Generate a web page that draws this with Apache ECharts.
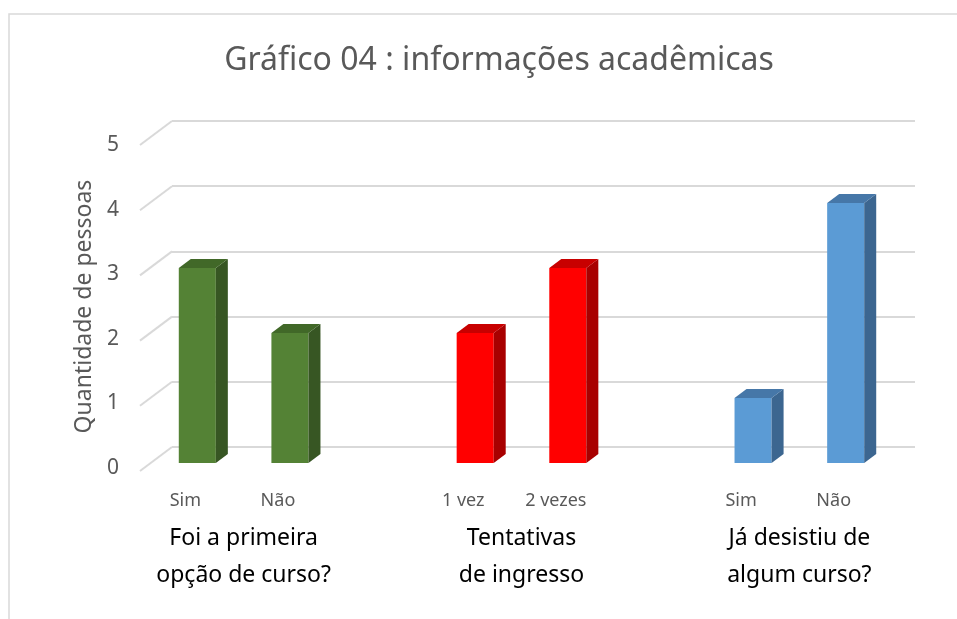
<!DOCTYPE html>
<html>
<head>
<meta charset="utf-8">
<script src="https://cdn.jsdelivr.net/npm/echarts@6/dist/echarts.min.js"></script>
<style>
  html, body { margin: 0; padding: 0; background: #fff; }
  #chart { width: 957px; height: 619px; }
</style>
</head>
<body>
<div id="chart"></div>
<script>
// slots along the x axis; empty slots leave the gap between groups
const slotLabels = ['Sim', 'Não', '', '1 vez', '2 vezes', '', 'Sim', 'Não'];
const counts = [3, 2, null, 2, 3, null, 1, 4];
const slotGroup = [0, 0, -1, 1, 1, -1, 2, 2];
const groupLabels = ['Foi a primeira\nopção de curso?', 'Tentativas\nde ingresso', 'Já desistiu de\nalgum curso?'];
const groupCenters = [0.5, 3.5, 6.5];
const yTicks = [0, 1, 2, 3, 4, 5];

// front / top / side colours per group
const palette = [
  { front: '#548235', top: '#416828', side: '#375623' },
  { front: '#ff0000', top: '#c80000', side: '#a80000' },
  { front: '#5b9bd5', top: '#4677a8', side: '#3c6690' }
];

const barData = [];
counts.forEach((v, i) => {
  if (v != null) barData.push([i, v, slotGroup[i]]);
});

const renderBar = (params, api) => {
  const x = api.value(0);
  const v = api.value(1);
  const c = palette[api.value(2)];
  const base = api.coord([x, 0]);
  const top = api.coord([x, v]);
  const w = api.size([1, 0])[0] * 0.4;
  const x0 = base[0] - w / 2, x1 = base[0] + w / 2;
  const dx = 12, dy = -9;
  return {
    type: 'group',
    children: [
      { type: 'rect', shape: { x: x0, y: top[1], width: w, height: base[1] - top[1] }, style: { fill: c.front } },
      { type: 'polygon', shape: { points: [[x1, top[1]], [x1 + dx, top[1] + dy], [x1 + dx, base[1] + dy], [x1, base[1]]] }, style: { fill: c.side } },
      { type: 'polygon', shape: { points: [[x0, top[1]], [x0 + dx, top[1] + dy], [x1 + dx, top[1] + dy], [x1, top[1]]] }, style: { fill: c.top } }
    ]
  };
};

// diagonal floor/wall lines from the front edge to the back wall
const renderDiagonal = (params, api) => {
  const p = api.coord([0, api.value(1)]);
  return {
    type: 'line',
    shape: { x1: p[0] - 32, y1: p[1] + 24, x2: p[0], y2: p[1] },
    style: { stroke: '#d9d9d9', lineWidth: 2 }
  };
};

const options = {
  backgroundColor: '#fff',
  title: {
    text: 'Gráfico 04 : informações acadêmicas',
    left: 494,
    top: 40,
    textAlign: 'center',
    textStyle: { fontFamily: 'Noto Sans', fontWeight: 'normal', fontSize: 32, color: '#595959' }
  },
  graphic: [{
    type: 'rect',
    shape: { x: 9, y: 14, width: 960, height: 620 },
    style: { fill: 'none', stroke: '#d9d9d9', lineWidth: 1.5 },
    silent: true
  }],
  grid: [
    // bar front-face plane
    { left: 151, right: 65, top: 138, bottom: 156 },
    // back wall
    { left: 172, right: 42, top: 121, bottom: 172 },
    // front edge (tick labels)
    { left: 140, right: 42, top: 145, bottom: 151 },
    // category labels sit on the front edge, a little left of the bars
    { left: 139, right: 77, top: 138, bottom: 156 }
  ],
  xAxis: [
    { gridIndex: 0, type: 'category', data: slotLabels, show: false },
    { gridIndex: 1, type: 'value', min: 0, max: 1, show: false },
    { gridIndex: 2, type: 'value', min: 0, max: 1, show: false },
    {
      gridIndex: 0, type: 'value', min: -0.5, max: 7.5, interval: 0.5, position: 'bottom',
      axisLine: { show: false }, axisTick: { show: false }, splitLine: { show: false },
      axisLabel: {
        margin: 57, color: '#000', fontSize: 23, lineHeight: 37, fontFamily: 'Noto Sans',
        showMinLabel: false, showMaxLabel: false,
        formatter: (val) => {
          const k = groupCenters.findIndex(c => Math.abs(c - val) < 1e-6);
          return k >= 0 ? groupLabels[k] : '';
        }
      }
    },
    {
      gridIndex: 3, type: 'category', data: slotLabels,
      axisLine: { show: false }, axisTick: { show: false },
      axisLabel: { interval: 0, margin: 29, color: '#595959', fontSize: 18, fontFamily: 'Noto Sans' }
    }
  ],
  yAxis: [
    { gridIndex: 0, type: 'value', min: 0, max: 5, interval: 1, show: false },
    {
      gridIndex: 1, type: 'value', min: 0, max: 5, interval: 1,
      axisLine: { show: false }, axisTick: { show: false }, axisLabel: { show: false },
      splitLine: { show: true, lineStyle: { color: '#d9d9d9', width: 2 } }
    },
    {
      gridIndex: 2, type: 'value', min: 0, max: 5, interval: 1,
      axisLine: { show: false }, axisTick: { show: false }, splitLine: { show: false },
      axisLabel: { margin: 21, color: '#595959', fontSize: 21, fontFamily: 'Noto Sans' },
      name: 'Quantidade de pessoas',
      nameLocation: 'middle',
      nameGap: 44,
      nameTextStyle: { color: '#595959', fontSize: 23, fontFamily: 'Noto Sans' }
    },
    { gridIndex: 3, type: 'value', min: 0, max: 5, interval: 1, show: false }
  ],
  series: [
    {
      type: 'custom', xAxisIndex: 1, yAxisIndex: 1,
      renderItem: renderDiagonal,
      data: yTicks.map(v => [0, v]),
      silent: true, z: 1
    },
    {
      type: 'custom', xAxisIndex: 0, yAxisIndex: 0,
      renderItem: renderBar,
      data: barData,
      z: 3
    }
  ]
};

const chart = echarts.init(document.getElementById('chart'));
chart.setOption(options);
window.addEventListener('resize', () => chart.resize(), false);
</script>
</body>
</html>
